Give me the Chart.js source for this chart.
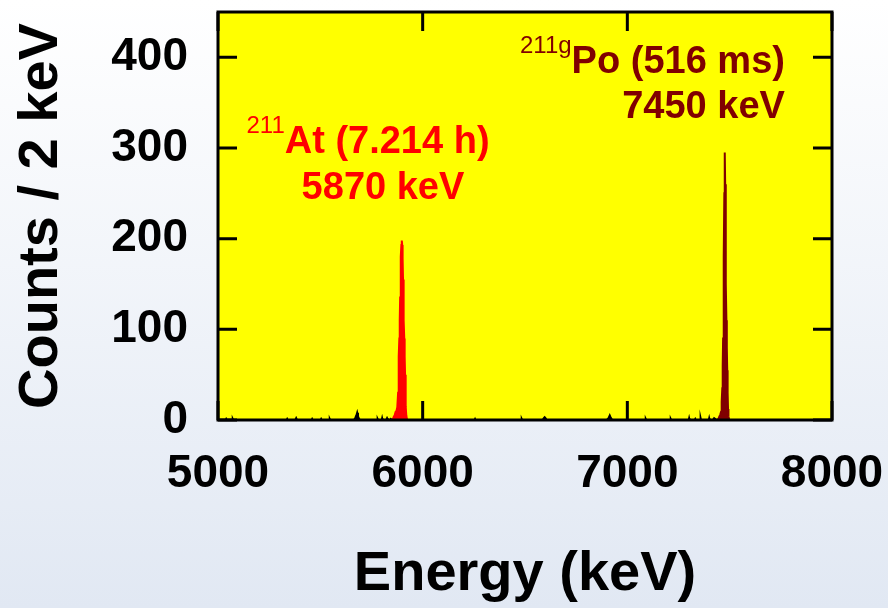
<!DOCTYPE html>
<html lang="en">
<head>
<meta charset="UTF-8">
<title>Energy spectrum</title>
<script src="https://cdn.jsdelivr.net/npm/chart.js"></script>
<style>
  html, body { margin: 0; padding: 0; }
  body {
    width: 888px; height: 608px; overflow: hidden;
    background: linear-gradient(to bottom, #ffffff 0%, #e1e8f3 100%);
  }
  canvas { display: block; }
</style>
</head>
<body>
<canvas id="spectrum" width="888" height="608"></canvas>
<script>

// axis ticks
const xTicks = [5000, 6000, 7000, 8000];
const yTicks = [0, 100, 200, 300, 400];

// 211At peak (red), energy in keV / counts per 2 keV
const atE      = [5850, 5856, 5860, 5864, 5868, 5872, 5876, 5880, 5882, 5884, 5886, 5888, 5890, 5892, 5894, 5896, 5898,
                  5900, 5902, 5904, 5906, 5908, 5910, 5912, 5914, 5916, 5918, 5920, 5924];
const atCounts = [0,    2,    4,    6,    9,    10,   14,   30,   50,   70,   90,   110,  135,  160,  180,  193,  198,
                  193,  178,  155,  130,  110,  90,   70,   50,   30,   15,   5,    0];

// 211gPo peak (dark red)
const poE      = [7440, 7446, 7450, 7454, 7458, 7460, 7462, 7464, 7466, 7468, 7470, 7472, 7474, 7476,
                  7478, 7480, 7482, 7484, 7486, 7488, 7490, 7492, 7494, 7498];
const poCounts = [0,    2,    4,    6,    9,    12,   20,   35,   60,   90,   130,  180,  250,  295,
                  260,  200,  150,  110,  80,   55,   30,   12,   4,    0];

// background counts (black)
const bgE      = [5000, 5038, 5040, 5042, 5070, 5072, 5074, 5250, 5252, 5254, 5336, 5338, 5340, 5378, 5382, 5386,
                  5458, 5460, 5462, 5502, 5504, 5506, 5544, 5546, 5548, 5664, 5670, 5676, 5680, 5684, 5690, 5694,
                  5778, 5780, 5782, 5800, 5802, 5804, 5822, 5826, 5830, 5840, 5844, 5848, 6090, 6092, 6094,
                  6254, 6256, 6258, 6482, 6484, 6486, 6586, 6592, 6596, 6600, 6606, 6696, 6698, 6700,
                  6900, 6908, 6914, 6918, 6926, 7088, 7090, 7092, 7210, 7212, 7214, 7272, 7274, 7276,
                  7300, 7302, 7304, 7330, 7332, 7334, 7356, 7358, 7360, 7380, 7382, 7384, 7398, 7400, 7402,
                  7418, 7424, 7430, 7436, 8000];
const bgCounts = [0,    0,    1,    0,    0,    1,    0,    0,    1,    0,    0,    1,    0,    0,    2,    0,
                  0,    1,    0,    0,    1,    0,    0,    1,    0,    0,    2,    5,    8,    4,    1,    0,
                  0,    1,    0,    0,    2,    0,    0,    2,    0,    0,    1,    0,    0,    1,    0,
                  0,    1,    0,    0,    1,    0,    0,    2,    3,    2,    0,    0,    1,    0,
                  0,    2,    5,    3,    0,    0,    1,    0,    0,    1,    0,    0,    1,    0,
                  0,    2,    0,    0,    1,    0,    0,    2,    0,    0,    1,    0,    0,    2,    0,
                  0,    2,    1,    0,    0];

const toPoints = (e, c) => e.map((v, i) => ({ x: v, y: c[i] }));

const FONT = "'Liberation Sans', Arial, sans-serif";
const tickLen = 19;

// text labels, anchored in data units
const peakLabels = [
  { color: '#ff0000', align: 'center', x: 5733, y: 294, parts: [['211', true], ['At (7.214 h)', false]] },
  { color: '#ff0000', align: 'center', x: 5806, y: 244, parts: [['5870 keV', false]] },
  { color: '#800000', align: 'right',  x: 7770, y: 383, parts: [['211g', true], ['Po (516 ms)', false]] },
  { color: '#800000', align: 'right',  x: 7770, y: 333, parts: [['7450 keV', false]] }
];

const framePlugin = {
  id: 'frame',
  beforeDatasetsDraw(chart) {
    const { ctx, chartArea: a } = chart;
    ctx.save();
    ctx.fillStyle = '#ffff00';
    ctx.fillRect(a.left, a.top, a.width, a.height);
    ctx.restore();
  },
  afterDatasetsDraw(chart) {
    const { ctx, chartArea: a, scales } = chart;
    ctx.save();
    ctx.strokeStyle = '#000';
    ctx.lineWidth = 3;
    ctx.strokeRect(a.left, a.top, a.width, a.height);

    // inward ticks on all four sides
    ctx.beginPath();
    xTicks.forEach(v => {
      const px = scales.x.getPixelForValue(v);
      ctx.moveTo(px, a.bottom); ctx.lineTo(px, a.bottom - tickLen);
      ctx.moveTo(px, a.top);    ctx.lineTo(px, a.top + tickLen);
    });
    yTicks.forEach(v => {
      const py = scales.y.getPixelForValue(v);
      ctx.moveTo(a.left, py);  ctx.lineTo(a.left + tickLen, py);
      ctx.moveTo(a.right, py); ctx.lineTo(a.right - tickLen, py);
    });
    ctx.stroke();

    // peak labels with superscript mass numbers
    const mainFont = 'bold 38px ' + FONT;
    const supFont = '24px ' + FONT;
    peakLabels.forEach(l => {
      let w = 0;
      l.parts.forEach(p => { ctx.font = p[1] ? supFont : mainFont; w += ctx.measureText(p[0]).width; });
      const ax = scales.x.getPixelForValue(l.x);
      const ay = scales.y.getPixelForValue(l.y);
      let cx = l.align === 'right' ? ax - w : ax - w / 2;
      ctx.fillStyle = l.color;
      ctx.textBaseline = 'alphabetic';
      ctx.textAlign = 'left';
      l.parts.forEach(p => {
        ctx.font = p[1] ? supFont : mainFont;
        ctx.fillText(p[0], cx, p[1] ? ay - 20 : ay);
        cx += ctx.measureText(p[0]).width;
      });
    });
    ctx.restore();
  }
};

new Chart(document.getElementById('spectrum'), {
  type: 'line',
  data: {
    datasets: [
      { data: toPoints(atE, atCounts), borderColor: '#ff0000', backgroundColor: '#ff0000', borderWidth: 2, fill: 'origin' },
      { data: toPoints(poE, poCounts), borderColor: '#800000', backgroundColor: '#800000', borderWidth: 2, fill: 'origin' },
      { data: toPoints(bgE, bgCounts), borderColor: '#000000', backgroundColor: '#000000', borderWidth: 2, fill: 'origin' }
    ]
  },
  options: {
    responsive: false,
    animation: false,
    events: [],
    elements: { point: { radius: 0 }, line: { tension: 0 } },
    layout: { padding: { top: 12, right: 56, bottom: 0, left: 0 } },
    plugins: { legend: { display: false }, tooltip: { enabled: false } },
    scales: {
      x: {
        type: 'linear', min: 5000, max: 8000,
        afterBuildTicks: s => { s.ticks = xTicks.map(v => ({ value: v })); },
        afterFit: s => { s.height = 188; s.paddingLeft = 0; s.paddingRight = 0; },
        grid: { display: false },
        border: { display: false },
        ticks: { color: '#000', padding: 19, maxRotation: 0, callback: v => String(v), font: { family: FONT, size: 46, weight: 'bold' } },
        title: { display: true, text: 'Energy (keV)', color: '#000', padding: 0, font: { family: FONT, size: 56, weight: 'bold' } }
      },
      y: {
        min: 0, max: 450,
        afterBuildTicks: s => { s.ticks = yTicks.map(v => ({ value: v })); },
        afterFit: s => { s.width = 218; s.paddingTop = 0; s.paddingBottom = 0; },
        grid: { display: false },
        border: { display: false },
        ticks: { color: '#000', padding: 22, callback: v => String(v), font: { family: FONT, size: 46, weight: 'bold' } },
        title: { display: true, text: 'Counts / 2 keV', color: '#000', padding: { top: 8, bottom: 0 }, font: { family: FONT, size: 56, weight: 'bold' } }
      }
    }
  },
  plugins: [framePlugin]
});
</script>
</body>
</html>
